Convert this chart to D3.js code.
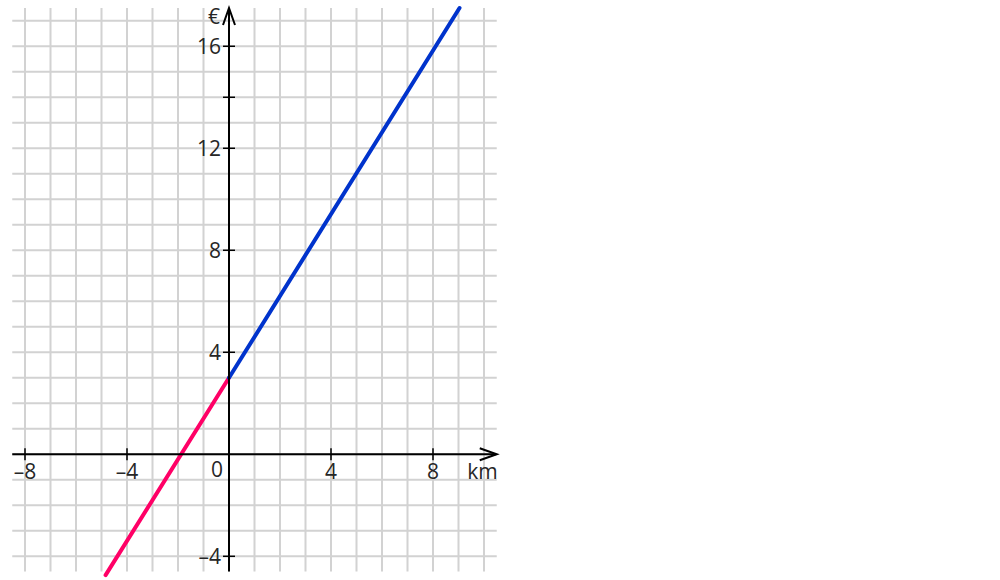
<!DOCTYPE html>
<html>
<head>
<meta charset="utf-8">
<script src="https://cdn.jsdelivr.net/npm/d3@7"></script>
<style>
  body { margin: 0; background: #fff; }
  svg { display: block; }
</style>
</head>
<body>
<div id="chart"></div>
<script>
// dati del grafico
var xDomain = [-8.5, 10.5];
var yDomain = [-4.6, 17.5];
var xTicks = [-8, -4, 4, 8];
var xTickLabels = ["\u20138", "\u20134", "4", "8"];
var yTicks = [16, 14, 12, 8, 4, -4];
var yTickLabels = ["16", "", "12", "8", "4", "\u20134"];
var redLine = [[-4.84, -4.74], [0, 3]];
var blueLine = [[0, 3], [9.04, 17.5]];
var xLabel = "km";
var yLabel = "\u20ac";

var width = 1000;
var height = 580;

var x = d3.scaleLinear().domain(xDomain).range([12.25, 496.75]);
var y = d3.scaleLinear().domain(yDomain).range([571.6, 8]);

var svg = d3.select("#chart")
            .append("svg")
            .attr("width", width)
            .attr("height", height)
            .style("font-family", "'Open Sans', sans-serif");

// griglia
var gGrid = svg.append("g")
               .attr("stroke", "#d2d2d2")
               .attr("stroke-width", 2);

gGrid.selectAll("line.v")
     .data(d3.range(Math.ceil(xDomain[0]), Math.floor(xDomain[1]) + 1))
     .enter()
     .append("line")
     .attr("class", "v")
     .attr("x1", function(d) { return x(d); })
     .attr("x2", function(d) { return x(d); })
     .attr("y1", y(yDomain[0]))
     .attr("y2", y(yDomain[1]));

gGrid.selectAll("line.h")
     .data(d3.range(Math.ceil(yDomain[0]), Math.floor(yDomain[1]) + 1))
     .enter()
     .append("line")
     .attr("class", "h")
     .attr("x1", x(xDomain[0]))
     .attr("x2", x(xDomain[1]))
     .attr("y1", function(d) { return y(d); })
     .attr("y2", function(d) { return y(d); });

// rette
var line = d3.line()
             .x(function(d) { return x(d[0]); })
             .y(function(d) { return y(d[1]); });

svg.append("path")
   .datum(redLine)
   .attr("d", line)
   .attr("fill", "none")
   .attr("stroke", "#ff0066")
   .attr("stroke-width", 4)
   .attr("stroke-linecap", "round");

svg.append("path")
   .datum(blueLine)
   .attr("d", line)
   .attr("fill", "none")
   .attr("stroke", "#0033cc")
   .attr("stroke-width", 4)
   .attr("stroke-linecap", "round");

// assi
var gAxes = svg.append("g")
               .attr("stroke", "#000")
               .attr("fill", "none");

gAxes.append("line")
     .attr("x1", x(xDomain[0]))
     .attr("x2", x(xDomain[1]) - 1)
     .attr("y1", y(0))
     .attr("y2", y(0))
     .attr("stroke-width", 2);

gAxes.append("path")
     .attr("d", "M" + (x(xDomain[1]) - 17) + "," + (y(0) - 6) +
                "L" + x(xDomain[1]) + "," + y(0) +
                "L" + (x(xDomain[1]) - 17) + "," + (y(0) + 6))
     .attr("stroke-width", 2);

gAxes.append("line")
     .attr("x1", x(0))
     .attr("x2", x(0))
     .attr("y1", y(yDomain[0]))
     .attr("y2", y(yDomain[1]) + 1)
     .attr("stroke-width", 2);

gAxes.append("path")
     .attr("d", "M" + (x(0) - 6) + "," + (y(yDomain[1]) + 17) +
                "L" + x(0) + "," + y(yDomain[1]) +
                "L" + (x(0) + 6) + "," + (y(yDomain[1]) + 17))
     .attr("stroke-width", 2);

// tacche
gAxes.selectAll("line.xt")
     .data(xTicks)
     .enter()
     .append("line")
     .attr("class", "xt")
     .attr("x1", function(d) { return x(d); })
     .attr("x2", function(d) { return x(d); })
     .attr("y1", y(0) - 6)
     .attr("y2", y(0) + 6)
     .attr("stroke-width", 1.5);

gAxes.selectAll("line.yt")
     .data(yTicks)
     .enter()
     .append("line")
     .attr("class", "yt")
     .attr("x1", x(0) - 6)
     .attr("x2", x(0) + 6)
     .attr("y1", function(d) { return y(d); })
     .attr("y2", function(d) { return y(d); })
     .attr("stroke-width", 1.5);

// etichette
var gText = svg.append("g")
               .attr("fill", "#262626")
               .style("font-size", "21px");

gText.selectAll("text.xl")
     .data(xTicks)
     .enter()
     .append("text")
     .attr("class", "xl")
     .attr("x", function(d) { return x(d); })
     .attr("y", y(0) + 25)
     .attr("text-anchor", "middle")
     .text(function(d, i) { return xTickLabels[i]; });

gText.selectAll("text.yl")
     .data(yTicks)
     .enter()
     .append("text")
     .attr("class", "yl")
     .attr("x", x(0) - 8)
     .attr("y", function(d) { return y(d); })
     .attr("dy", "0.36em")
     .attr("text-anchor", "end")
     .text(function(d, i) { return yTickLabels[i]; });

gText.append("text")
     .attr("x", x(0) - 6)
     .attr("y", y(0) + 23)
     .attr("text-anchor", "end")
     .text("0");

gText.append("text")
     .attr("x", x(xDomain[1]) + 1)
     .attr("y", y(0) + 25)
     .attr("text-anchor", "end")
     .text(xLabel);

gText.append("text")
     .attr("x", x(0) - 15)
     .attr("y", y(yDomain[1]) + 16)
     .attr("text-anchor", "middle")
     .text(yLabel);
</script>
</body>
</html>
